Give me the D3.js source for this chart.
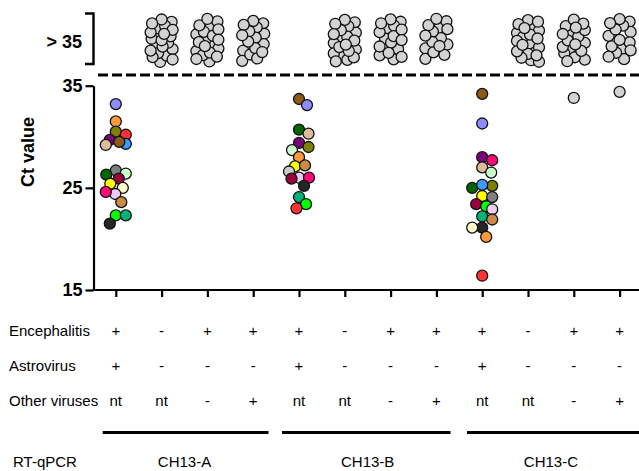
<!doctype html>
<html>
<head>
<meta charset="utf-8">
<script src="https://cdn.jsdelivr.net/npm/d3@7"></script>
<style>
  body { margin: 0; background: #fff; }
  svg { display: block; font-family: "Liberation Sans", Arial, sans-serif; }
</style>
</head>
<body>
<svg id="chart" width="639" height="471"></svg>
<script>
  // colour names used for the individual animals
  var palette = {
    lavender: '#8c8cff', orange: '#ff9a3c', olive: '#7f7f00', red: '#ff3333',
    purple: '#7a007a', blue: '#3d99ff', brown: '#8b5a1a', tan: '#ddbb9c',
    grey: '#7f7f7f', darkgreen: '#006600', mint: '#ccffcc', maroon: '#99003d',
    yellow: '#ffff00', cream: '#ffffcc', lilac: '#ebccf5', pink: '#ff0a78',
    lightbrown: '#c98a45', green: '#00ff00', teal: '#00b377', black: '#262626',
    silver: '#cccccc', neg: '#d3d3d3'
  };

  // 12 columns of the scatter, 4 per assay
  var columns = d3.range(12);
  var assays = ['CH13-A', 'CH13-B', 'CH13-C'];
  var encephalitis = ['+', '-', '+', '+', '+', '-', '+', '+', '+', '-', '+', '+'];
  var astrovirus = ['+', '-', '-', '-', '+', '-', '-', '-', '+', '-', '-', '-'];
  var otherViruses = ['nt', 'nt', '-', '+', 'nt', 'nt', '-', '+', 'nt', 'nt', '-', '+'];

  // Ct values of the positive animals (col 0, 4, 8)
  var ctA = [33.2, 31.5, 30.5, 30.2, 29.7, 29.3, 29.5, 29.2, 26.7, 26.3, 26.4, 25.9, 25.4, 25.0, 24.4, 24.6, 23.6, 22.3, 22.3, 21.5];
  var colA = ['lavender', 'orange', 'olive', 'red', 'purple', 'blue', 'brown', 'tan', 'grey', 'darkgreen', 'mint', 'maroon', 'yellow', 'cream', 'lilac', 'pink', 'lightbrown', 'green', 'teal', 'black'];
  var ctB = [33.7, 33.1, 30.7, 30.3, 29.4, 29.0, 28.7, 28.0, 27.1, 27.2, 26.6, 26.0, 25.9, 26.0, 25.2, 24.1, 23.4, 23.0];
  var colB = ['brown', 'lavender', 'darkgreen', 'tan', 'purple', 'olive', 'mint', 'orange', 'yellow', 'lightbrown', 'silver', 'lilac', 'maroon', 'pink', 'black', 'teal', 'green', 'red'];
  var ctC = [34.2, 31.3, 28.0, 27.7, 27.0, 26.5, 25.2, 25.0, 25.3, 24.2, 24.1, 23.4, 23.2, 22.9, 22.2, 21.9, 21.1, 21.1, 20.2, 16.4];
  var colC = ['brown', 'lavender', 'purple', 'pink', 'tan', 'mint', 'olive', 'darkgreen', 'blue', 'yellow', 'grey', 'maroon', 'green', 'lilac', 'teal', 'lightbrown', 'black', 'cream', 'orange', 'red'];

  // single grey samples below 35
  var negCols = [10, 11];
  var negCt = [33.8, 34.4];

  // number of samples with Ct > 35 per column
  var above35 = [0, 22, 20, 16, 0, 20, 17, 15, 0, 20, 18, 15];

  var svg = d3.select('#chart');
  var R = 5.5;

  var x = d3.scalePoint().domain(columns).range([115.8, 619.6]);
  var y = d3.scaleLinear().domain([15, 35]).range([290, 85.7]);

  // simple beeswarm: nearest free offset (px) to the centre line
  function swarm(ys, minDist, maxOff) {
    var order = d3.range(ys.length).sort(function (a, b) { return ys[a] - ys[b]; });
    var offs = new Array(ys.length);
    var placed = [];
    order.forEach(function (i) {
      var best = 0, bestD = -1;
      for (var k = 0; k <= maxOff * 4; k++) {
        var o = (k % 2 ? 1 : -1) * Math.ceil(k / 2) * 0.5;
        var dmin = Infinity;
        placed.forEach(function (p) {
          var d = Math.hypot(p[0] - o, p[1] - ys[i]);
          if (d < dmin) dmin = d;
        });
        if (dmin >= minDist) { best = o; bestD = dmin; break; }
        if (dmin > bestD) { bestD = dmin; best = o; }
      }
      offs[i] = best;
      placed.push([best, ys[i]]);
    });
    return offs;
  }

  // axes
  var yAxis = d3.axisLeft(y).tickValues([15, 25, 35]).tickSize(8).tickPadding(3).tickSizeOuter(0);
  var gy = svg.append('g').attr('transform', 'translate(93.5,0)').call(yAxis);
  gy.select('.domain').attr('stroke-width', 2.2);
  gy.selectAll('.tick line').attr('stroke-width', 2.2);
  gy.selectAll('.tick text').attr('font-size', 18).attr('font-weight', 'bold').attr('fill', '#000')
    .attr('font-family', '"Liberation Sans", Arial, sans-serif');

  var xAxis = d3.axisBottom(x).tickSize(7).tickFormat('').tickSizeOuter(0);
  var gx = svg.append('g').attr('transform', 'translate(0,290)').call(xAxis);
  gx.select('.domain').remove();
  gx.selectAll('.tick line').attr('stroke-width', 2.2);
  svg.append('line').attr('x1', 92.4).attr('x2', 639).attr('y1', 290).attr('y2', 290)
    .attr('stroke', '#000').attr('stroke-width', 2.2);

  svg.append('text')
    .attr('transform', 'translate(34,152) rotate(-90)')
    .attr('text-anchor', 'middle').attr('font-size', 18).attr('font-weight', 'bold')
    .text('Ct value');

  // > 35 band
  svg.append('path').attr('d', 'M85,13.5H93.5V64H85').attr('fill', 'none')
    .attr('stroke', '#000').attr('stroke-width', 2.4);
  svg.append('text').attr('x', 82).attr('y', 48).attr('text-anchor', 'end')
    .attr('font-size', 18).attr('font-weight', 'bold').text('> 35');
  svg.append('line').attr('x1', 98).attr('x2', 639).attr('y1', 75).attr('y2', 75)
    .attr('stroke', '#000').attr('stroke-width', 3).attr('stroke-dasharray', '10,4');

  // dots
  var dots = svg.append('g');
  function drawGroup(col, cts, cols) {
    var ys = cts.map(y);
    var offs = swarm(ys, 10, 10);
    dots.selectAll(null).data(cts).enter().append('circle')
      .attr('cx', function (d, i) { return x(col) + offs[i]; })
      .attr('cy', function (d, i) { return ys[i]; })
      .attr('r', R)
      .attr('fill', function (d, i) { return palette[cols[i]]; })
      .attr('stroke', '#111').attr('stroke-width', 1.3);
  }
  drawGroup(0, ctA, colA);
  drawGroup(4, ctB, colB);
  drawGroup(8, ctC, colC);
  negCols.forEach(function (c, i) { drawGroup(c, [negCt[i]], ['neg']); });

  // samples above 35 spread inside the band
  above35.forEach(function (n, c) {
    if (!n) return;
    var ys = d3.range(n).map(function (i) { return 18.5 + ((i * 0.618034 + c * 0.37) % 1) * 44; });
    var offs = swarm(ys, 10, 11);
    dots.selectAll(null).data(ys).enter().append('circle')
      .attr('cx', function (d, i) { return x(c) + offs[i]; })
      .attr('cy', function (d) { return d; })
      .attr('r', R)
      .attr('fill', palette.neg)
      .attr('stroke', '#111').attr('stroke-width', 1.3);
  });

  // table below the chart
  var rows = [['Encephalitis', encephalitis, 336], ['Astrovirus', astrovirus, 371], ['Other viruses', otherViruses, 406]];
  var table = svg.append('g').attr('font-size', 15);
  rows.forEach(function (r) {
    table.append('text').attr('x', 9).attr('y', r[2]).text(r[0]);
    table.selectAll(null).data(r[1]).enter().append('text')
      .attr('x', function (d, i) { return x(i); })
      .attr('y', r[2])
      .attr('text-anchor', 'middle')
      .text(function (d) { return d; });
  });

  var spans = [[102.7, 268.5], [282, 450.5], [467, 639]];
  assays.forEach(function (a, i) {
    svg.append('line').attr('x1', spans[i][0]).attr('x2', spans[i][1]).attr('y1', 432.5).attr('y2', 432.5)
      .attr('stroke', '#000').attr('stroke-width', 3.2);
    table.append('text').attr('x', (x(i * 4) + x(i * 4 + 3)) / 2).attr('y', 467)
      .attr('text-anchor', 'middle').text(a);
  });
  table.append('text').attr('x', 13).attr('y', 467).text('RT-qPCR');
</script>
</body>
</html>
